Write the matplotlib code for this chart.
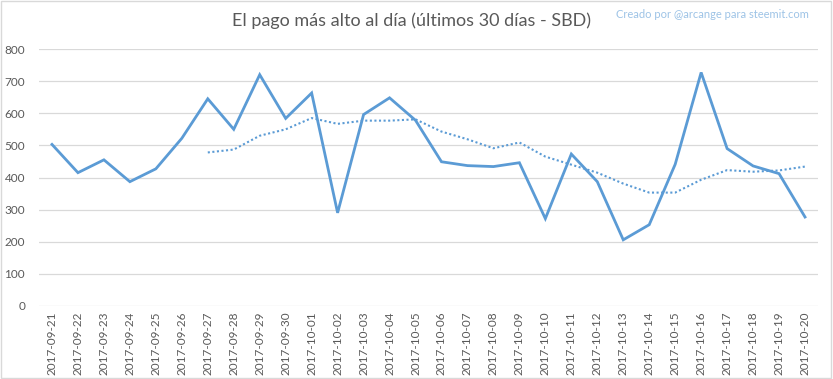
import matplotlib.pyplot as plt
from matplotlib.patches import Rectangle

plt.rcParams['font.family'] = ['Lato', 'DejaVu Sans']

dates = ['2017-09-21', '2017-09-22', '2017-09-23', '2017-09-24', '2017-09-25',
         '2017-09-26', '2017-09-27', '2017-09-28', '2017-09-29', '2017-09-30',
         '2017-10-01', '2017-10-02', '2017-10-03', '2017-10-04', '2017-10-05',
         '2017-10-06', '2017-10-07', '2017-10-08', '2017-10-09', '2017-10-10',
         '2017-10-11', '2017-10-12', '2017-10-13', '2017-10-14', '2017-10-15',
         '2017-10-16', '2017-10-17', '2017-10-18', '2017-10-19', '2017-10-20']

# highest daily payout (SBD)
top_pay = [503, 415, 455, 387, 427, 522, 645, 550, 720, 584,
           663, 290, 596, 648, 578, 449, 437, 434, 446, 272,
           473, 387, 206, 253, 441, 727, 490, 436, 412, 277]

# 7 day average, starts at 2017-09-27
avg_start = 6
avg_pay = [478, 487, 530, 550, 585, 567, 577, 577, 581, 543,
           519, 491, 509, 465, 440, 415, 381, 353, 353, 393,
           423, 418, 422, 434]

blue = '#5B9BD5'
grey = '#595959'

fig = plt.figure(figsize=(8.33, 3.79), dpi=100)
ax = fig.add_axes([39 / 833, 1 - 306 / 379, 779 / 833, 257 / 379])

x = list(range(len(dates)))
ax.plot(x, top_pay, color=blue, lw=2.0, solid_joinstyle='miter', zorder=3)
ax.plot(x[avg_start:], avg_pay, color=blue, lw=1.5, ls=(0, (1, 1.2)), zorder=3)

ax.set_xlim(-0.5, len(dates) - 0.5)
ax.set_ylim(0, 800)
ax.set_yticks(range(0, 801, 100))
ax.grid(axis='y', color='#d9d9d9', lw=0.9, zorder=0)
ax.set_axisbelow(True)
for s in ax.spines.values():
    s.set_visible(False)
ax.set_xticks(x)
ax.set_xticklabels(dates, rotation=90, fontsize=8.5, color=grey)
ax.tick_params(axis='both', length=0, labelsize=8.5, labelcolor=grey)
ax.tick_params(axis='x', pad=4)
ax.tick_params(axis='y', pad=10)

fig.text(0.494, 1 - 21 / 379, 'El pago más alto al día (últimos 30 días - SBD)',
         ha='center', va='center', fontsize=13, color=grey)
fig.text(809 / 833, 1 - 14 / 379, 'Creado por @arcange para steemit.com',
         ha='right', va='center', fontsize=8, color='#9dc3e6')

fig.patches.append(Rectangle((0.001, 0.002), 0.997, 0.995, transform=fig.transFigure,
                             fill=False, ec='#d9d9d9', lw=1))

fig.savefig('out.png', dpi=100)
